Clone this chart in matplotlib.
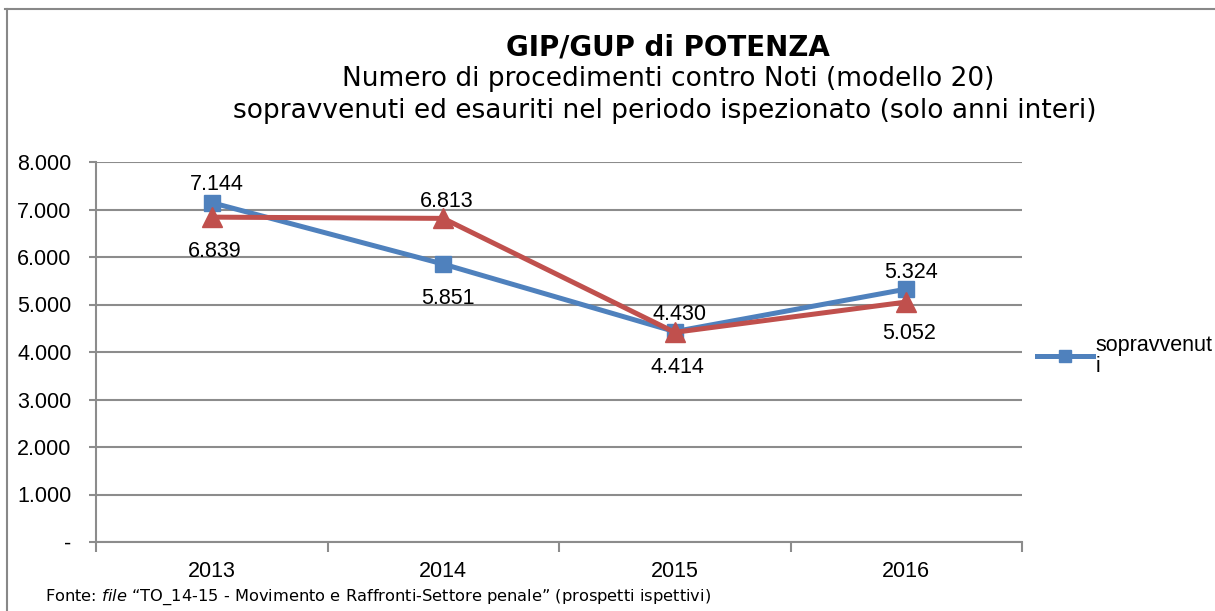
import matplotlib.pyplot as plt
from matplotlib.lines import Line2D
from matplotlib.ticker import FuncFormatter

anni = ['2013', '2014', '2015', '2016']
sopravvenuti = [7144, 5851, 4430, 5324]
esauriti = [6839, 6813, 4414, 5052]
# label offsets (px) above/below each point
off_sopr = [18, -34, 17, 17]
off_esau = [-34, 17, -35, -31]

blu = '#4F81BD'
rosso = '#C0504D'
griglia = '#8C8C8C'
fs = 15.5

def fmt_it(v, pos=None):
    if v == 0:
        return '-'
    return '{:,.0f}'.format(v).replace(',', '.')

fig = plt.figure(figsize=(12.15, 6.11), dpi=100)
ax = fig.add_axes([96/1215, 1-542/611, (1022-96)/1215, (542-162)/611])

x = list(range(len(anni)))
ax.plot(x, sopravvenuti, color=blu, lw=3.6, marker='s', markersize=12,
        label='sopravvenut\ni', zorder=3)
ax.plot(x, esauriti, color=rosso, lw=3.6, marker='^', markersize=14,
        zorder=4)

for i in x:
    ax.annotate(fmt_it(sopravvenuti[i]), (i, sopravvenuti[i]),
                xytext=(5, off_sopr[i]), textcoords='offset pixels',
                ha='center', va='center', fontsize=fs,
                family='Liberation Sans', zorder=5)
    ax.annotate(fmt_it(esauriti[i]), (i, esauriti[i]),
                xytext=(3, off_esau[i]), textcoords='offset pixels',
                ha='center', va='center', fontsize=fs,
                family='Liberation Sans', zorder=5)

ax.set_xlim(-0.5, len(anni) - 0.5)
ax.set_ylim(0, 8000)
ax.set_yticks(range(0, 8001, 1000))
ax.yaxis.set_major_formatter(FuncFormatter(fmt_it))
ax.set_xticks(x)
ax.set_xticklabels(anni)
ax.set_xticks([i - 0.5 for i in range(len(anni) + 1)], minor=True)
ax.tick_params(axis='x', which='major', length=0, pad=14, labelsize=fs)
ax.tick_params(axis='x', which='minor', length=7, width=1.5, color=griglia)
ax.tick_params(axis='y', length=5, width=1.5, color=griglia, labelsize=fs, pad=12.5)
for lab in ax.get_xticklabels() + ax.get_yticklabels():
    lab.set_family('Liberation Sans')

ax.grid(axis='y', color=griglia, lw=1.5)
ax.set_axisbelow(True)
for s in ['top', 'right']:
    ax.spines[s].set_visible(False)
ax.spines['left'].set_color(griglia)
ax.spines['left'].set_linewidth(1.5)
ax.spines['bottom'].set_color(griglia)
ax.spines['bottom'].set_linewidth(1.5)

leg = ax.legend(loc='center left', bbox_to_anchor=(0.995, 0.49), frameon=False,
                handlelength=2.6, handletextpad=0.15, markerscale=0.75,
                prop={'family': 'Liberation Sans', 'size': fs})
for t in leg.get_texts():
    t.set_linespacing(1.0)

fig.text(0.55, 1-47/611, 'GIP/GUP di POTENZA', ha='center', va='center',
         fontsize=20, fontweight='bold', family='DejaVu Sans')
fig.text(0.55, 1-79/611, 'Numero di procedimenti contro Noti (modello 20)',
         ha='center', va='center', fontsize=19, family='DejaVu Sans')
fig.text(0.547, 1-111/611,
         'sopravvenuti ed esauriti nel periodo ispezionato (solo anni interi)',
         ha='center', va='center', fontsize=19, family='DejaVu Sans')

fig.text(45/1215, 1-597/611,
         'Fonte: $\\it{file}$ “TO_14-15 - Movimento e Raffronti-Settore penale” (prospetti ispettivi)',
         ha='left', va='center', fontsize=11.7, family='DejaVu Sans')

# figure frame (top and left edges)
fig.add_artist(Line2D([5/1215, 1], [1-9/611, 1-9/611], color='#888888', lw=1.5))
fig.add_artist(Line2D([7/1215, 7/1215], [0, 1-9/611], color='#888888', lw=1.5))

fig.savefig('out.png', dpi=100)
